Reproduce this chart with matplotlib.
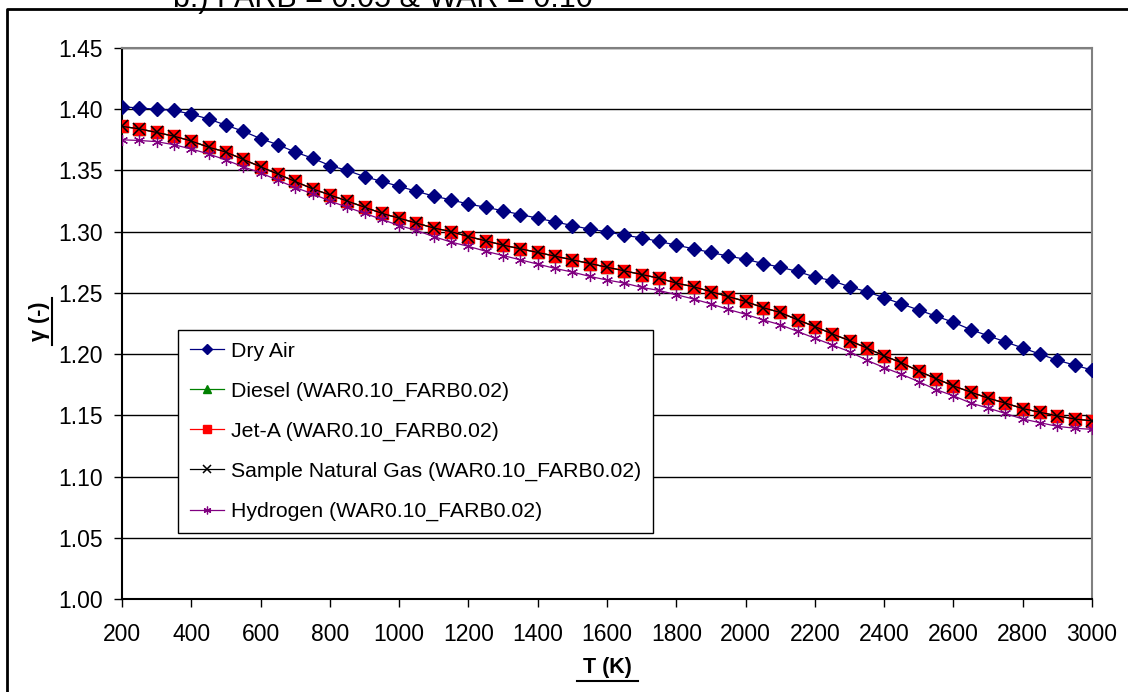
import matplotlib
matplotlib.use("Agg")
import matplotlib.pyplot as plt
from matplotlib.lines import Line2D

plt.rcParams['font.family'] = ['Liberation Sans', 'DejaVu Sans']

# Temperature (K)
temp_k = [200, 250, 300, 350, 400, 450, 500, 550, 600, 650, 700, 750, 800, 850, 900,
          950, 1000, 1050, 1100, 1150, 1200, 1250, 1300, 1350, 1400, 1450, 1500, 1550,
          1600, 1650, 1700, 1750, 1800, 1850, 1900, 1950, 2000, 2050, 2100, 2150, 2200,
          2250, 2300, 2350, 2400, 2450, 2500, 2550, 2600, 2650, 2700, 2750, 2800, 2850,
          2900, 2950, 3000]

# ratio of specific heats, gamma (-)
dry_air_gamma = [1.402, 1.401, 1.400, 1.399, 1.396, 1.392, 1.387, 1.382, 1.376, 1.371,
                 1.365, 1.360, 1.354, 1.350, 1.345, 1.341, 1.337, 1.333, 1.329, 1.326,
                 1.3225, 1.320, 1.317, 1.314, 1.311, 1.308, 1.305, 1.302, 1.300, 1.297,
                 1.295, 1.292, 1.289, 1.286, 1.283, 1.280, 1.2775, 1.274, 1.271, 1.2675,
                 1.263, 1.260, 1.255, 1.251, 1.246, 1.241, 1.236, 1.231, 1.226, 1.220,
                 1.215, 1.210, 1.205, 1.200, 1.195, 1.191, 1.187]

jet_a_gamma = [1.386, 1.384, 1.381, 1.378, 1.374, 1.369, 1.365, 1.359, 1.353, 1.347,
               1.341, 1.335, 1.330, 1.325, 1.320, 1.315, 1.311, 1.307, 1.303, 1.300,
               1.296, 1.2925, 1.289, 1.286, 1.283, 1.280, 1.277, 1.274, 1.271, 1.268,
               1.265, 1.262, 1.258, 1.255, 1.251, 1.247, 1.243, 1.238, 1.234, 1.228,
               1.2225, 1.2165, 1.211, 1.205, 1.1985, 1.193, 1.186, 1.180, 1.174, 1.169,
               1.164, 1.160, 1.1555, 1.1525, 1.1495, 1.147, 1.1455]

diesel_gamma = [1.386, 1.384, 1.381, 1.378, 1.374, 1.369, 1.365, 1.359, 1.353, 1.347,
                1.341, 1.335, 1.330, 1.325, 1.320, 1.315, 1.311, 1.307, 1.303, 1.300,
                1.296, 1.2925, 1.289, 1.286, 1.283, 1.280, 1.277, 1.274, 1.271, 1.268,
                1.265, 1.262, 1.258, 1.255, 1.251, 1.247, 1.243, 1.238, 1.234, 1.228,
                1.2225, 1.2165, 1.211, 1.205, 1.1985, 1.193, 1.186, 1.180, 1.174, 1.169,
                1.164, 1.160, 1.1555, 1.1525, 1.1495, 1.147, 1.1455]

natural_gas_gamma = [1.386, 1.384, 1.381, 1.378, 1.374, 1.369, 1.365, 1.359, 1.353, 1.347,
                     1.341, 1.335, 1.330, 1.325, 1.320, 1.315, 1.311, 1.307, 1.303, 1.300,
                     1.296, 1.2925, 1.289, 1.286, 1.283, 1.280, 1.277, 1.274, 1.271, 1.268,
                     1.265, 1.262, 1.258, 1.255, 1.251, 1.247, 1.243, 1.238, 1.234, 1.228,
                     1.2225, 1.2165, 1.211, 1.205, 1.1985, 1.193, 1.186, 1.180, 1.174, 1.169,
                     1.164, 1.160, 1.1555, 1.1525, 1.1495, 1.147, 1.1455]

hydrogen_gamma = [1.375, 1.3745, 1.3735, 1.371, 1.3675, 1.3635, 1.3585, 1.353, 1.348, 1.342,
                  1.336, 1.331, 1.325, 1.320, 1.315, 1.310, 1.305, 1.301, 1.296, 1.2915,
                  1.288, 1.284, 1.2805, 1.277, 1.2735, 1.270, 1.267, 1.2635, 1.2605, 1.258,
                  1.2545, 1.252, 1.2485, 1.245, 1.241, 1.2365, 1.2325, 1.228, 1.224, 1.2185,
                  1.213, 1.2075, 1.202, 1.195, 1.189, 1.1835, 1.1775, 1.171, 1.166, 1.160,
                  1.156, 1.1515, 1.147, 1.144, 1.141, 1.1395, 1.1385]

series_labels = ["Dry Air",
                 "Diesel (WAR0.10_FARB0.02)",
                 "Jet-A (WAR0.10_FARB0.02)",
                 "Sample Natural Gas (WAR0.10_FARB0.02)",
                 "Hydrogen (WAR0.10_FARB0.02)"]

x_ticks = [200, 400, 600, 800, 1000, 1200, 1400, 1600, 1800, 2000, 2200, 2400, 2600, 2800, 3000]
y_ticks = [1.00, 1.05, 1.10, 1.15, 1.20, 1.25, 1.30, 1.35, 1.40, 1.45]

fig = plt.figure(figsize=(11.28, 6.92), dpi=100)
ax = fig.add_axes([122 / 1128, 1 - 599 / 692, 970 / 1128, 551 / 692])

lw = 0.9
ax.plot(temp_k, dry_air_gamma, color='#000080', lw=lw, marker='D', ms=7,
        mfc='#000080', mec='#000080', label=series_labels[0], zorder=3)
ax.plot(temp_k, diesel_gamma, color='#008000', lw=lw, marker='^', ms=8,
        mfc='#008000', mec='#008000', label=series_labels[1], zorder=3)
ax.plot(temp_k, jet_a_gamma, color='#FF0000', lw=lw, marker='s', ms=8,
        mfc='#FF0000', mec='#FF0000', label=series_labels[2], zorder=3)
ax.plot(temp_k, natural_gas_gamma, color='black', lw=lw, marker='x', ms=9,
        mew=1.1, label=series_labels[3], zorder=3)
ax.plot(temp_k, hydrogen_gamma, color='#800080', lw=lw, marker=(6, 2, 0), ms=8,
        mew=0.9, label=series_labels[4], zorder=3)

ax.set_xlim(200, 3000)
ax.set_ylim(1.00, 1.45)
ax.set_xticks(x_ticks)
ax.set_yticks(y_ticks)
ax.set_yticklabels(["%.2f" % v for v in y_ticks])
ax.tick_params(axis='both', direction='out', length=6, width=1, labelsize=16.5, color='black')
ax.tick_params(axis='x', pad=11)
ax.tick_params(axis='y', pad=8)

ax.yaxis.grid(True, color='black', lw=1)
ax.set_axisbelow(True)
ax.spines['left'].set_color('black')
ax.spines['bottom'].set_color('black')
ax.spines['top'].set_color('#808080')
ax.spines['right'].set_color('#808080')
for s in ax.spines.values():
    s.set_linewidth(1.5)

leg = ax.legend(loc='upper left', bbox_to_anchor=((178 - 122) / 970, (599 - 330) / 551),
                borderaxespad=0, fontsize=15.3, frameon=True, fancybox=False,
                framealpha=1, edgecolor='black', handlelength=1.6, labelspacing=0.98,
                markerscale=0.7, borderpad=0.56, handletextpad=0.35)
leg.get_frame().set_linewidth(1)

# axis titles, bold and underlined
fig.text(607 / 1128, 1 - 668 / 692, "T (K)", fontsize=15.5, fontweight='bold',
         ha='center', va='center')
fig.add_artist(Line2D([577 / 1128, 638 / 1128], [1 - 681 / 692, 1 - 681 / 692],
                      color='black', lw=1.5))
fig.text(40 / 1128, 1 - 321 / 692, "γ (-)", fontsize=15.5, fontweight='bold',
         rotation=90, ha='center', va='center')
fig.add_artist(Line2D([52 / 1128, 52 / 1128], [1 - 298 / 692, 1 - 345 / 692],
                      color='black', lw=1.5))

# chart title and outer frame
fig.text(173 / 1128, 1 - 7 / 692, "b.) FARB = 0.05 & WAR = 0.10", fontsize=22,
         ha='left', va='baseline')
fig.add_artist(Line2D([7 / 1128, 7 / 1128, 1.0], [0.0, 1 - 9 / 692, 1 - 9 / 692],
                      color='black', lw=2))

fig.savefig("out.png", dpi=100)
